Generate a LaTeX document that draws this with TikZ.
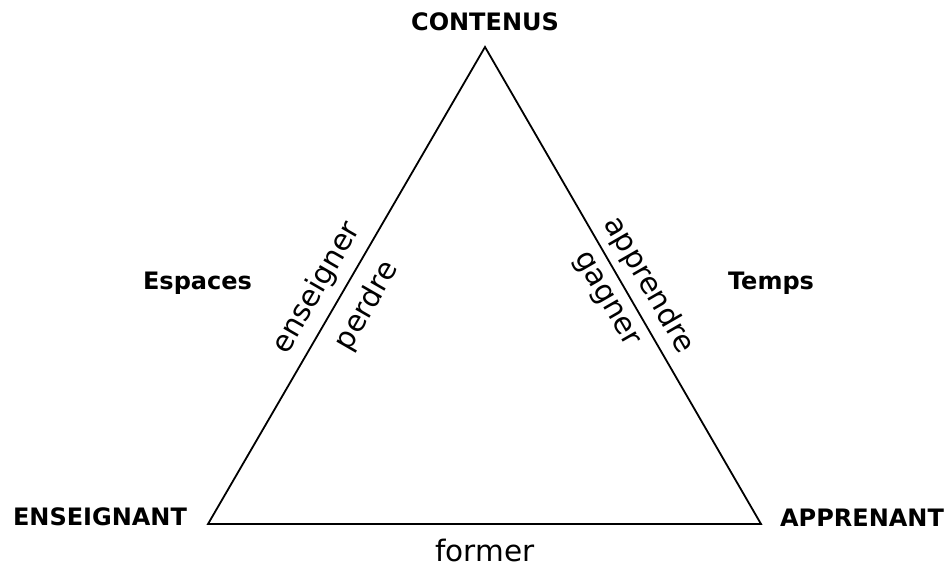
\documentclass[tikz,border=0pt]{standalone}
\usepackage{fontspec}
\setmainfont{DejaVu Sans}
\begin{document}
\begin{tikzpicture}[x=1pt,y=-1pt,
  vlabel/.style={font=\fontsize{24}{27}\selectfont\bfseries, inner sep=0pt},
  elabel/.style={font=\fontsize{29.5}{33}\selectfont, inner sep=0pt},
  edge/.style={line width=1.8pt, line join=miter}]
\useasboundingbox (0,0) rectangle (944,566);
\coordinate (C) at (485,47);
\coordinate (E) at (208,524);
\coordinate (A) at (761,524);
\draw[edge] (C) -- (E) -- (A) -- cycle;
\node[vlabel] (contenus) at (485,22) {CONTENUS};
\node[vlabel] (enseignant) at (100,517) {ENSEIGNANT};
\node[vlabel] (apprenant) at (862,518) {APPRENANT};
\node[vlabel] (espaces) at (197.5,283) {Espaces};
\node[vlabel] (temps) at (771,283) {Temps};
\node[elabel, anchor=base] (former) at (485,561) {former};
\node[elabel, rotate=60] (enseigner) at (317,288) {enseigner};
\node[elabel, rotate=60] (perdre) at (367,306) {perdre};
\node[elabel, rotate=-60] (apprendre) at (649,285) {apprendre};
\node[elabel, rotate=-60] (gagner) at (605,300) {gagner};
\end{tikzpicture}
\end{document}
